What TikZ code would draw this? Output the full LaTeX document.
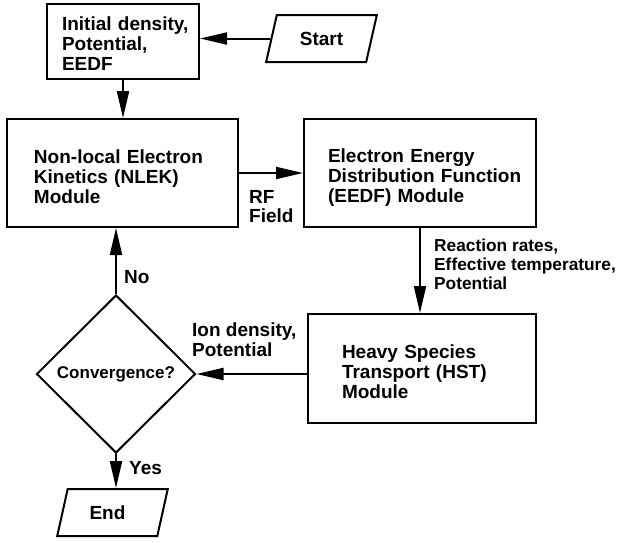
\documentclass[tikz,border=0pt]{standalone}
\usepackage{fontspec}
\setmainfont{Liberation Sans}
\usetikzlibrary{shapes.geometric,arrows.meta}
\newcommand{\myup}[1]{\rule{0pt}{#1}}
\tikzset{
  lw/.style={line width=2pt},
  box/.style={draw, lw, align=left, inner xsep=0pt, inner ysep=0pt,
    font=\fontsize{19}{20}\selectfont\bfseries},
  para/.style={draw, lw, trapezium, trapezium left angle=69, trapezium right angle=111,
    trapezium stretches=true, minimum width=111pt, minimum height=47pt, inner sep=0pt,
    font=\fontsize{19}{20}\selectfont\bfseries},
  decision/.style={draw, lw, diamond, minimum width=159pt, minimum height=158pt, inner sep=0pt,
    font=\fontsize{17}{19}\selectfont\bfseries},
  lbl/.style={align=left, inner sep=0pt, font=\fontsize{19}{19.5}\selectfont\bfseries},
  lblsmall/.style={align=left, inner sep=0pt, font=\fontsize{17.3}{19}\selectfont\bfseries},
  arr/.style={lw, -{Triangle[length=27pt,width=12pt]}},
}
\begin{document}
\begin{tikzpicture}[x=1pt,y=-1pt]
\useasboundingbox (0,0) rectangle (622,542);
\fill[white] (0,0) rectangle (622,542);

\node[box, minimum width=152pt, minimum height=75pt, text width=122pt] (init) at (123,41.5)
  {\mbox{\myup{18pt}Initial density,}\\\mbox{Potential,}\\\mbox{EEDF}};
\node[para] (start) at (321.5,38.5) {Start};
\node[box, minimum width=231pt, minimum height=108pt, text width=177pt] (nlek) at (122.5,173)
  {\mbox{\myup{22pt}Non-local Electron}\\\mbox{Kinetics (NLEK)}\\\mbox{Module}};
\node[box, minimum width=232pt, minimum height=108pt, text width=184pt] (eedf) at (420,173)
  {\mbox{\myup{23pt}Electron Energy}\\\mbox{Distribution Function}\\\mbox{(EEDF) Module}};
\node[box, minimum width=228pt, minimum height=109pt, text width=160pt] (hst) at (422,368.5)
  {\mbox{\myup{21pt}Heavy Species}\\\mbox{Transport (HST)}\\\mbox{Module}};
\node[decision] (conv) at (116,374) {Convergence?};
\node[para] (end) at (112.5,512.5) {End\hspace*{10pt}};

\node[lbl, anchor=north west] (rf) at (249,190) {RF\\Field};
\node[lblsmall, anchor=north west] (rates) at (434,239)
  {Reaction rates,\\Effective temperature,\\Potential};
\node[lbl, anchor=north west] (ion) at (192,323) {Ion density,\\Potential};
\node[lbl, anchor=west] (no) at (124,277) {No};
\node[lbl, anchor=west] (yes) at (129,468) {Yes};

\draw[arr] (start.west) -- (start.west -| init.east);
\draw[arr] (init.south) -- (init.south |- nlek.north);
\draw[arr] (nlek.east) -- (eedf.west);
\draw[arr] (eedf.south) -- (eedf.south |- hst.north);
\draw[arr] (hst.west |- conv.east) -- (conv.east);
\draw[arr] (conv.north) -- (conv.north |- nlek.south);
\draw[arr] (conv.south) -- (conv.south |- end.north);
\end{tikzpicture}
\end{document}
